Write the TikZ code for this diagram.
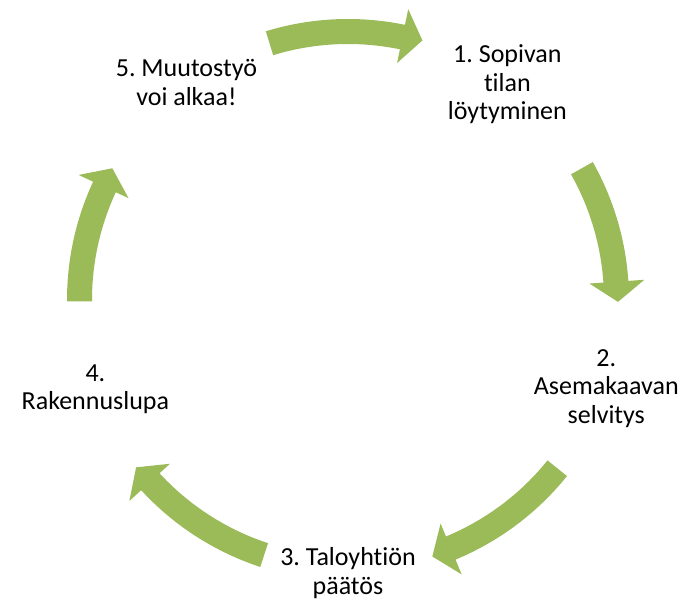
\documentclass[tikz,border=0pt]{standalone}
\usepackage{fontspec}
\setmainfont{Carlito}[Ligatures={NoCommon}]
\frenchspacing
\definecolor{arrowgreen}{RGB}{155,187,89}

% curved block arrow on the cycle: #1 = tail angle, #2 = tip angle
\newcommand{\cyclearrow}[2]{%
  \pgfmathsetmacro{\headbase}{#2+4.3}
  \fill[arrowgreen] (#1:281) arc[start angle=#1, end angle=\headbase, radius=281]
    -- (\headbase:297) -- (#2:270) -- (\headbase:242) -- (\headbase:256)
    arc[start angle=\headbase, end angle=#1, radius=256] -- cycle;}

\begin{document}
\begin{tikzpicture}[x=1pt,y=1pt]
  \tikzstyle{every node}=[align=center,text=black,inner sep=1pt,
                          font=\fontsize{26}{28.5}\selectfont]
  \useasboundingbox (-348,-301) rectangle (335,300);

  \foreach \t/\p in {107/74, 29.4/-0.4, -38.8/-71.8, -108.2/-141.7, 180.3/150.8}
    \cyclearrow{\t}{\p};

  \node (sopivan)    at (53.5:268)   {1. Sopivan\\tilan\\löytyminen};
  \node (asemakaava) at (-18.9:273)  {2.\\Asemakaavan\\selvitys};
  \node (paatos)     at (-90:273)    {3. Taloyhtiön\\päätös};
  \node (lupa)       at (-160.5:268) {4.\\Rakennuslupa};
  \node (muutos)     at (126.6:271)  {5. Muutostyö\\voi alkaa!};
\end{tikzpicture}
\end{document}
